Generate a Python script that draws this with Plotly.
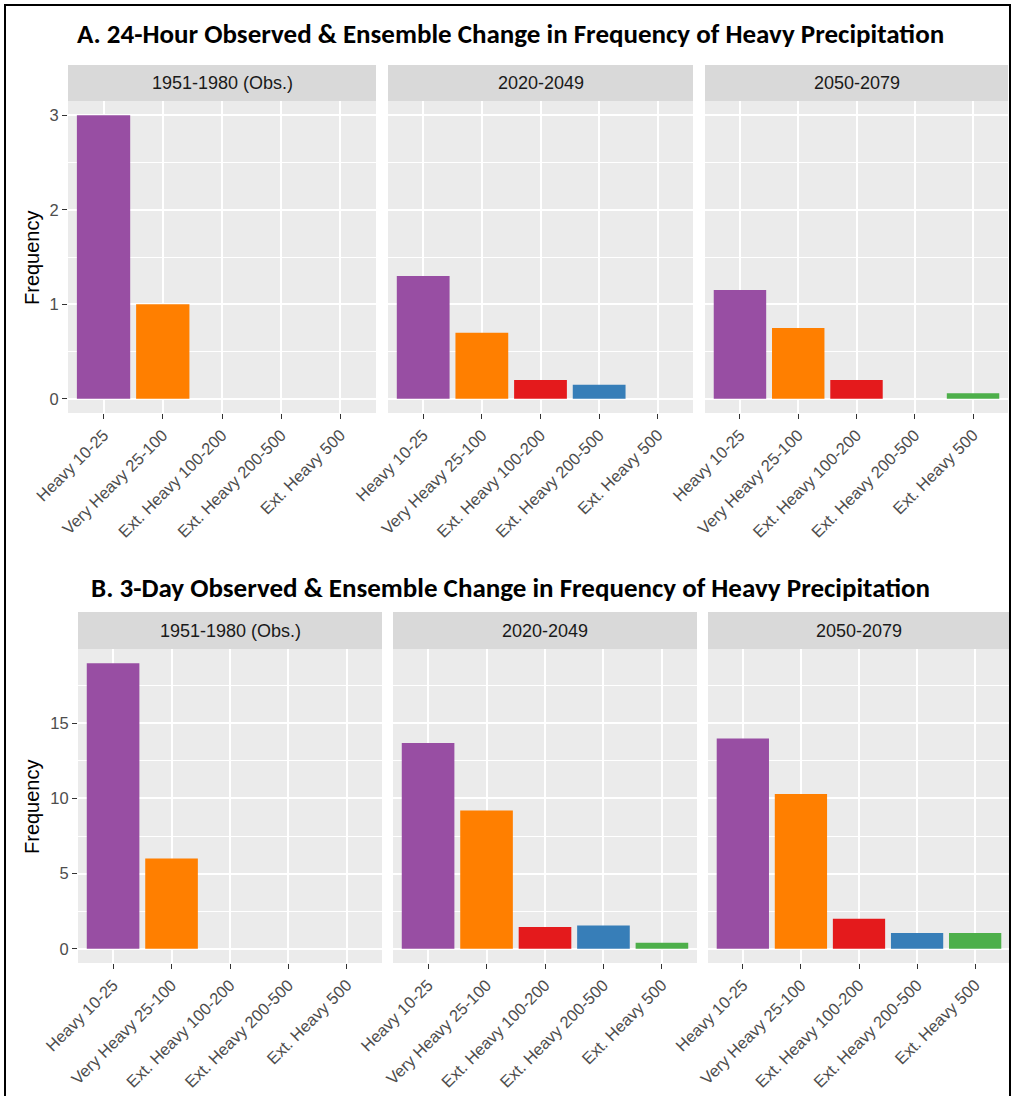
import plotly.graph_objects as go

# Precipitation intensity classes (x categories) and facet periods
categories = ["Heavy 10-25", "Very Heavy 25-100", "Ext. Heavy 100-200",
              "Ext. Heavy 200-500", "Ext. Heavy 500"]
periods = ["1951-1980 (Obs.)", "2020-2049", "2050-2079"]
class_colors = ["#984EA3", "#FF7F00", "#E41A1C", "#377EB8", "#4DAF4A"]

# A. 24-hour frequency per class
freq_24h_1951_1980 = [3, 1, 0, 0, 0]
freq_24h_2020_2049 = [1.3, 0.7, 0.2, 0.15, 0]
freq_24h_2050_2079 = [1.15, 0.75, 0.2, 0, 0.06]

# B. 3-day frequency per class
freq_3d_1951_1980 = [19, 6, 0, 0, 0]
freq_3d_2020_2049 = [13.7, 9.2, 1.45, 1.55, 0.4]
freq_3d_2050_2079 = [14.0, 10.3, 2.0, 1.05, 1.05]

y_ticks_24h = [0, 1, 2, 3]
y_ticks_3d = [0, 5, 10, 15]

W, H = 1013, 1096


def px_x(x):
    return x / W


def px_y(y):
    return 1 - y / H


AXIS_FONT = "Liberation Sans, Arial, sans-serif"
TITLE_FONT = "Carlito, Lato, sans-serif"

rows = [
    {
        "title": "A. 24-Hour Observed & Ensemble Change in Frequency of Heavy Precipitation",
        "title_y": 33,
        "series": [freq_24h_1951_1980, freq_24h_2020_2049, freq_24h_2050_2079],
        "panels_x": [(68, 376), (388, 693), (705, 1008)],
        "strip": (65, 101),
        "plot_bottom": 413,
        "ticks": y_ticks_24h,
        "minor": 0.5,
    },
    {
        "title": "B. 3-Day Observed & Ensemble Change in Frequency of Heavy Precipitation",
        "title_y": 587,
        "series": [freq_3d_1951_1980, freq_3d_2020_2049, freq_3d_2050_2079],
        "panels_x": [(78, 382), (393, 697), (708, 1010)],
        "strip": (612, 649),
        "plot_bottom": 963,
        "ticks": y_ticks_3d,
        "minor": 2.5,
    },
]

fig = go.Figure()
layout = {}
shapes = []
annotations = []

idx = 0
for row in rows:
    all_vals = [v for s in row["series"] for v in s]
    ymax = max(all_vals)
    pad = 0.05 * ymax
    yrange = [-pad, ymax + pad]
    strip_top, strip_bottom = row["strip"]

    for p, (vals, (x0, x1)) in enumerate(zip(row["series"], row["panels_x"])):
        idx += 1
        xa = "x" if idx == 1 else f"x{idx}"
        ya = "y" if idx == 1 else f"y{idx}"
        xkey = "xaxis" if idx == 1 else f"xaxis{idx}"
        ykey = "yaxis" if idx == 1 else f"yaxis{idx}"

        fig.add_trace(go.Bar(
            x=categories, y=vals, xaxis=xa, yaxis=ya,
            marker=dict(color=class_colors, line=dict(width=0)),
            width=0.9, showlegend=False,
        ))

        layout[xkey] = dict(
            domain=[px_x(x0), px_x(x1)], anchor=ya, automargin=False,
            type="category", categoryorder="array", categoryarray=categories,
            range=[-0.6, len(categories) - 0.4],
            showgrid=True, gridcolor="white", gridwidth=1.6,
            zeroline=False, showline=False,
            ticks="outside", ticklen=5, tickwidth=1.2, tickcolor="#333333",
            tickangle=-45, tickfont=dict(family=AXIS_FONT, size=16.5, color="#4D4D4D"),
            fixedrange=True,
        )
        layout[ykey] = dict(
            domain=[px_y(row["plot_bottom"]), px_y(strip_bottom)], anchor=xa,
            automargin=False,
            range=yrange, tickmode="array", tickvals=row["ticks"],
            showgrid=True, gridcolor="white", gridwidth=1.6,
            minor=dict(dtick=row["minor"], tick0=row["minor"], showgrid=True,
                       gridcolor="white", gridwidth=0.7, ticks=""),
            zeroline=False, showline=False,
            showticklabels=(p == 0),
            ticks="outside" if p == 0 else "", ticklen=5, tickwidth=1.2,
            tickcolor="#333333",
            tickfont=dict(family=AXIS_FONT, size=16.5, color="#4D4D4D"),
            fixedrange=True,
        )

        # facet strip
        shapes.append(dict(
            type="rect", xref="paper", yref="paper",
            x0=px_x(x0), x1=px_x(x1), y0=px_y(strip_bottom), y1=px_y(strip_top),
            fillcolor="#D9D9D9", line=dict(width=0), layer="below",
        ))
        annotations.append(dict(
            text=periods[p], xref="paper", yref="paper",
            x=px_x((x0 + x1) / 2), y=px_y((strip_top + strip_bottom) / 2),
            xanchor="center", yanchor="middle", showarrow=False,
            font=dict(family=AXIS_FONT, size=18, color="#1A1A1A"),
        ))

    # row title
    annotations.append(dict(
        text=f"<b>{row['title']}</b>", xref="paper", yref="paper",
        x=px_x(510), y=px_y(row["title_y"]), xanchor="center", yanchor="middle",
        showarrow=False, font=dict(family=TITLE_FONT, size=27, color="#000000"),
    ))
    # y-axis title
    annotations.append(dict(
        text="Frequency", xref="paper", yref="paper", textangle=-90,
        x=px_x(32), y=px_y((strip_bottom + row["plot_bottom"]) / 2),
        xanchor="center", yanchor="middle", showarrow=False,
        font=dict(family=AXIS_FONT, size=20, color="#000000"),
    ))

# outer frame
shapes.append(dict(
    type="rect", xref="paper", yref="paper",
    x0=px_x(5), x1=px_x(1010), y0=px_y(1110), y1=px_y(5),
    line=dict(color="black", width=2), fillcolor="rgba(0,0,0,0)", layer="above",
))

fig.update_layout(
    width=W, height=H,
    margin=dict(l=0, r=0, t=0, b=0, autoexpand=False),
    paper_bgcolor="white", plot_bgcolor="#EBEBEB",
    shapes=shapes, annotations=annotations,
    bargap=0.1, showlegend=False,
    **layout,
)

fig.write_html("out.html")
